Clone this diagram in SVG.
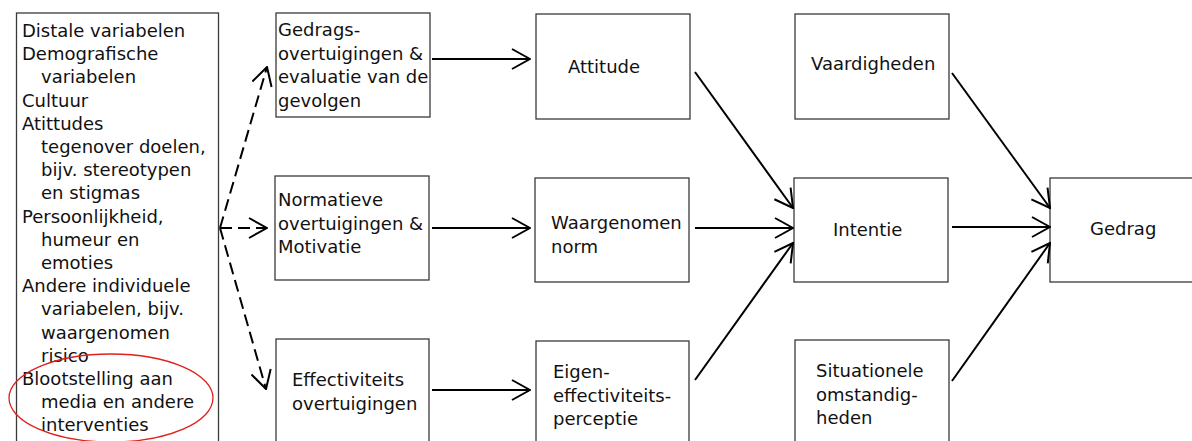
<svg xmlns="http://www.w3.org/2000/svg" width="1192" height="441" viewBox="0 0 1192 441">
<style>
.box{fill:#fff;stroke:#3a3a3a;stroke-width:1.3}
text{font-family:"DejaVu Sans","Liberation Sans",sans-serif;font-size:18px;fill:#111}
.c{stroke:#000;stroke-width:2;fill:none}
.d{stroke:#000;stroke-width:2;fill:none;stroke-dasharray:12,6}
</style>
<defs>
<marker id="ah" viewBox="0 0 20 22" refX="19" refY="11" markerWidth="20" markerHeight="22" markerUnits="userSpaceOnUse" orient="auto">
<path d="M1,1 L19,11 L1,21" fill="none" stroke="#000" stroke-width="2"/>
</marker>
</defs>
<rect width="1192" height="441" fill="#fff"/>

<g id="distale">
<rect class="box" x="16.5" y="13" width="202" height="440"/>
<text x="22" y="37">Distale variabelen</text>
<text x="22" y="60.2">Demografische</text>
<text x="41" y="83.4">variabelen</text>
<text x="22" y="106.6">Cultuur</text>
<text x="22" y="129.8">Atittudes</text>
<text x="41" y="153">tegenover doelen,</text>
<text x="41" y="176.2">bijv. stereotypen</text>
<text x="41" y="199.4">en stigmas</text>
<text x="22" y="222.6">Persoonlijkheid,</text>
<text x="41" y="245.8">humeur en</text>
<text x="41" y="269">emoties</text>
<text x="22" y="292.2">Andere individuele</text>
<text x="41" y="315.4">variabelen, bijv.</text>
<text x="41" y="338.6">waargenomen</text>
<text x="41" y="361.8">risico</text>
<text x="22" y="385">Blootstelling aan</text>
<text x="41" y="408.2">media en andere</text>
<text x="41" y="431.4">interventies</text>
<ellipse cx="111" cy="398" rx="102" ry="44" fill="none" stroke="#e0201a" stroke-width="1.3"/>
</g>

<g id="gedragsovertuigingen">
<rect class="box" x="276" y="13" width="154" height="104"/>
<text x="278" y="36">Gedrags-</text>
<text x="278" y="59.5">overtuigingen &amp;</text>
<text x="278" y="83">evaluatie van de</text>
<text x="278" y="106.5">gevolgen</text>
</g>

<g id="normatieve">
<rect class="box" x="275" y="176" width="154" height="104"/>
<text x="278" y="206">Normatieve</text>
<text x="278" y="229.5">overtuigingen &amp;</text>
<text x="278" y="253">Motivatie</text>
</g>

<g id="effectiviteits">
<rect class="box" x="276" y="339" width="153" height="120"/>
<text x="292" y="386">Effectiviteits</text>
<text x="292" y="409.5">overtuigingen</text>
</g>

<g id="attitude">
<rect class="box" x="536" y="14" width="154" height="105"/>
<text x="568" y="73">Attitude</text>
</g>

<g id="waargenomen">
<rect class="box" x="535" y="178" width="154" height="104"/>
<text x="551" y="229">Waargenomen</text>
<text x="551" y="252.5">norm</text>
</g>

<g id="eigen">
<rect class="box" x="536" y="341" width="153" height="120"/>
<text x="553" y="378">Eigen-</text>
<text x="553" y="401.5">effectiviteits-</text>
<text x="553" y="425">perceptie</text>
</g>

<g id="vaardigheden">
<rect class="box" x="795" y="14" width="154" height="105"/>
<text x="811" y="70">Vaardigheden</text>
</g>

<g id="intentie">
<rect class="box" x="794" y="178" width="154" height="104"/>
<text x="833" y="236">Intentie</text>
</g>

<g id="situationele">
<rect class="box" x="795" y="340" width="154" height="120"/>
<text x="816" y="377">Situationele</text>
<text x="816" y="400.5">omstandig-</text>
<text x="816" y="424">heden</text>
</g>

<g id="gedrag">
<rect class="box" x="1050" y="178" width="160" height="104"/>
<text x="1090" y="235">Gedrag</text>
</g>

<g id="connectors">
<path class="d" d="M220,228 L267,67" marker-end="url(#ah)"/>
<path class="d" d="M220,228 L267,228" marker-end="url(#ah)"/>
<path class="d" d="M220,228 L266,389" marker-end="url(#ah)"/>
<path class="c" d="M432,59 L530,59" marker-end="url(#ah)"/>
<path class="c" d="M432,228 L530,228" marker-end="url(#ah)"/>
<path class="c" d="M432,390 L530,390" marker-end="url(#ah)"/>
<path class="c" d="M695,72 L793,208" marker-end="url(#ah)"/>
<path class="c" d="M695,228 L793,228" marker-end="url(#ah)"/>
<path class="c" d="M695,380 L793,243" marker-end="url(#ah)"/>
<path class="c" d="M952,73 L1050,208" marker-end="url(#ah)"/>
<path class="c" d="M952,227 L1050,227" marker-end="url(#ah)"/>
<path class="c" d="M952,381 L1050,243" marker-end="url(#ah)"/>
</g>
</svg>
